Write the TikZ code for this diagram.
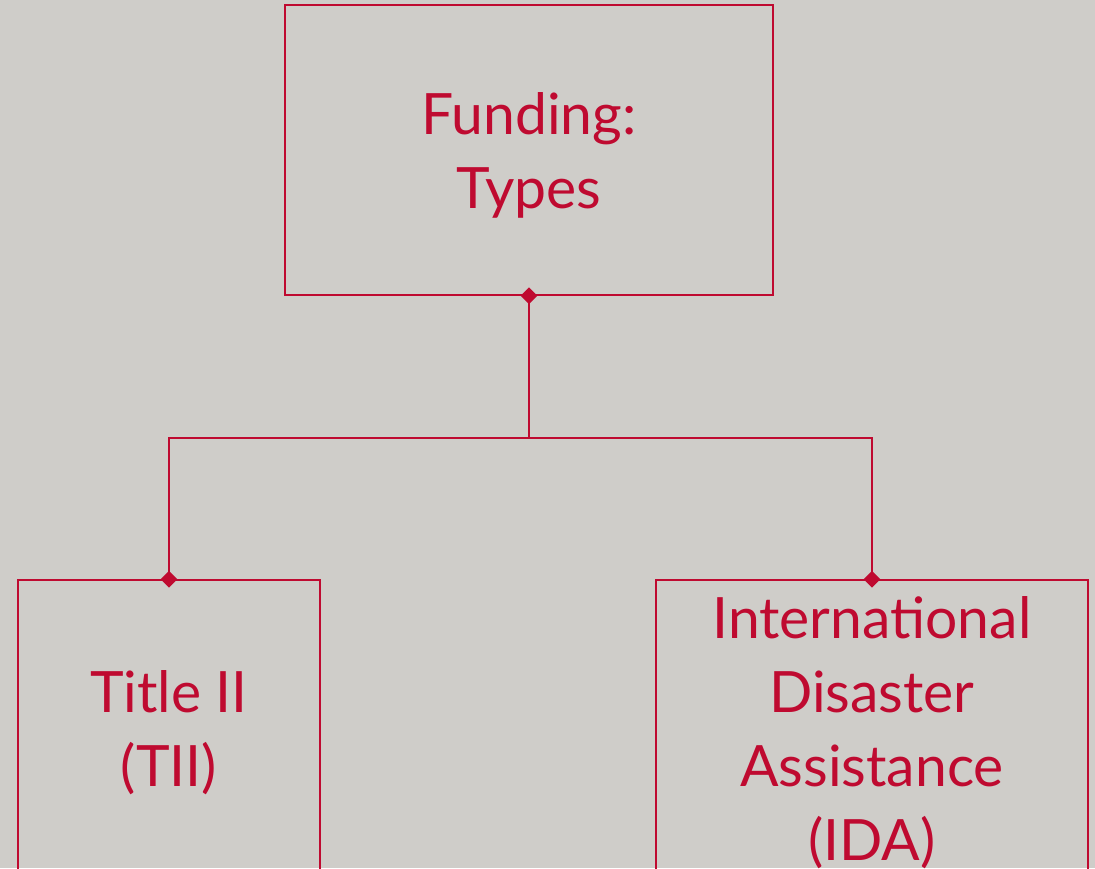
\documentclass[tikz,border=0pt]{standalone}
\usepackage{fontspec}
\setmainfont{Lato}
\usetikzlibrary{shapes.geometric}
\definecolor{bg}{RGB}{207,205,201}
\definecolor{brick}{RGB}{191,10,48}
\newcommand{\tallstrut}{\rule{0pt}{52pt}}
\begin{document}
\begin{tikzpicture}[x=1pt,y=-1pt,
  box/.style={draw=brick, line width=1.6pt, text=brick, align=center, inner sep=0pt,
    font=\fontsize{57}{74}\selectfont},
  joint/.style={diamond, fill=brick, inner sep=0pt, minimum width=17pt, minimum height=17pt},
  link/.style={draw=brick, line width=1.6pt}]
\fill[bg] (0,0) rectangle (1095,868);
\useasboundingbox (0,0) rectangle (1095,868);
\begin{scope}
\clip (0,0) rectangle (1095,868);
\node[box, minimum width=488pt, minimum height=290pt] (top) at (529,150) {\tallstrut Funding:\\Types};
\node[box, minimum width=302pt, minimum height=296pt] (left) at (169,728) {\tallstrut Title II\\(TII)};
\node[box, minimum width=432pt, minimum height=296pt] (right) at (872,728) {\tallstrut International\\Disaster\\Assistance\\(IDA)};
\coordinate (fork) at (529,438);
\draw[link] (top.south) -- (fork);
\draw[link] (fork) -| (left.north);
\draw[link] (fork) -| (right.north);
\node[joint] (jt) at (top.south) {};
\node[joint] (jl) at (left.north) {};
\node[joint] (jr) at (right.north) {};
\end{scope}
\end{tikzpicture}
\end{document}
